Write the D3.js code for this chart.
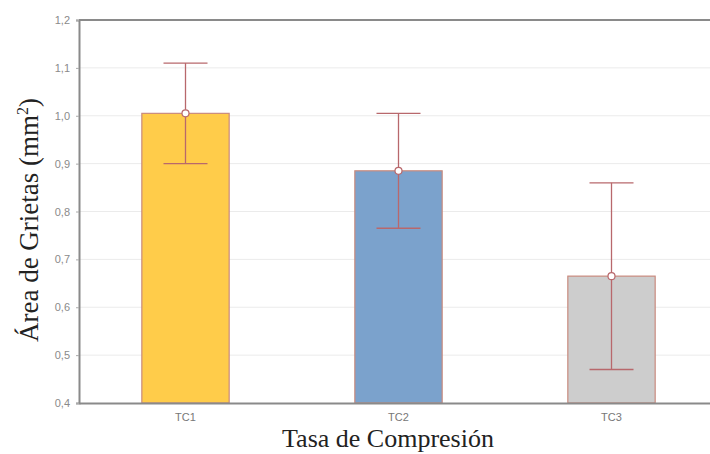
<!DOCTYPE html>
<html>
<head>
<meta charset="utf-8">
<script src="https://cdn.jsdelivr.net/npm/d3@7"></script>
<style>
  body { margin: 0; background: #fff; }
</style>
</head>
<body>
<script>
// datos
const categorias = ["TC1", "TC2", "TC3"];
const medias = [1.005, 0.885, 0.665];
const inferiores = [0.90, 0.765, 0.47];
const superiores = [1.11, 1.005, 0.86];
const colores = ["#FFCC4A", "#7BA2CC", "#CDCDCD"];
const ticksY = [0.4, 0.5, 0.6, 0.7, 0.8, 0.9, 1.0, 1.1, 1.2];

const W = 710, H = 454;
const margin = { top: 20, right: -8, bottom: 51, left: 79 };
const width = W - margin.left - margin.right;
const height = H - margin.top - margin.bottom;

const svg = d3.select("body").append("svg")
    .attr("width", W)
    .attr("height", H);

const g = svg.append("g")
    .attr("transform", "translate(" + margin.left + "," + margin.top + ")");

const x = d3.scaleBand()
    .domain(categorias)
    .range([0, width])
    .paddingInner(0.59)
    .paddingOuter(0.295);

const y = d3.scaleLinear()
    .domain([0.4, 1.2])
    .range([height, 0]);

// rejilla
g.append("g")
    .selectAll("line")
    .data(ticksY.slice(1, -1))
    .join("line")
    .attr("x1", 0).attr("x2", width)
    .attr("y1", d => y(d)).attr("y2", d => y(d))
    .attr("stroke", "#ebebeb")
    .attr("stroke-width", 1);

// barras
g.append("g")
    .selectAll("rect")
    .data(categorias)
    .join("rect")
    .attr("x", d => x(d))
    .attr("y", (d, i) => y(medias[i]))
    .attr("width", x.bandwidth())
    .attr("height", (d, i) => y(0.4) - y(medias[i]))
    .attr("fill", (d, i) => colores[i])
    .attr("stroke", "#C98A7E")
    .attr("stroke-width", 1.2);

// barras de error
const err = g.append("g").attr("stroke", "#B8686C").attr("stroke-width", 1.3);
categorias.forEach((c, i) => {
    const cx = x(c) + x.bandwidth() / 2;
    err.append("line")
        .attr("x1", cx).attr("x2", cx)
        .attr("y1", y(superiores[i])).attr("y2", y(inferiores[i]));
    [superiores[i], inferiores[i]].forEach(v => {
        err.append("line")
            .attr("x1", cx - 22).attr("x2", cx + 22)
            .attr("y1", y(v)).attr("y2", y(v));
    });
});
g.append("g")
    .selectAll("circle")
    .data(categorias)
    .join("circle")
    .attr("cx", d => x(d) + x.bandwidth() / 2)
    .attr("cy", (d, i) => y(medias[i]))
    .attr("r", 3.5)
    .attr("fill", "#fff")
    .attr("stroke", "#B8686C")
    .attr("stroke-width", 1.2);

// eje Y
const ejeY = g.append("g")
    .call(d3.axisLeft(y).tickValues(ticksY).tickSize(3).tickPadding(6)
        .tickFormat(d => d3.format(".1f")(d).replace(".", ",")));
ejeY.select(".domain").attr("stroke", "#8a8a8a").attr("stroke-width", 2);
ejeY.selectAll(".tick line").attr("stroke", "#aaa");
ejeY.selectAll("text")
    .attr("fill", "#8a8a8a")
    .style("font-family", "Liberation Sans, Arial, sans-serif")
    .style("font-size", "11px");

// eje X
const ejeX = g.append("g")
    .attr("transform", "translate(0," + height + ")")
    .call(d3.axisBottom(x).tickSize(0).tickPadding(10));
ejeX.select(".domain").attr("stroke", "#8a8a8a").attr("stroke-width", 2);
ejeX.selectAll("text")
    .attr("fill", "#777")
    .style("font-family", "Liberation Sans, Arial, sans-serif")
    .style("font-size", "11px");

// borde superior
g.append("line")
    .attr("x1", 0).attr("x2", width)
    .attr("y1", 0).attr("y2", 0)
    .attr("stroke", "#8a8a8a")
    .attr("stroke-width", 2);

// titulos
svg.append("text")
    .attr("x", 388)
    .attr("y", 447)
    .attr("text-anchor", "middle")
    .style("font-family", "Liberation Serif, Times New Roman, serif")
    .style("font-size", "26px")
    .attr("fill", "#222")
    .text("Tasa de Compresión");

const ty = svg.append("text")
    .attr("transform", "translate(38,220) rotate(-90)")
    .attr("text-anchor", "middle")
    .style("font-family", "Liberation Serif, Times New Roman, serif")
    .style("font-size", "27px")
    .attr("fill", "#222");
ty.append("tspan").text("Área de Grietas (mm");
ty.append("tspan").attr("dy", -10).style("font-size", "16px").text("2");
ty.append("tspan").attr("dy", 10).text(")");
</script>
</body>
</html>
